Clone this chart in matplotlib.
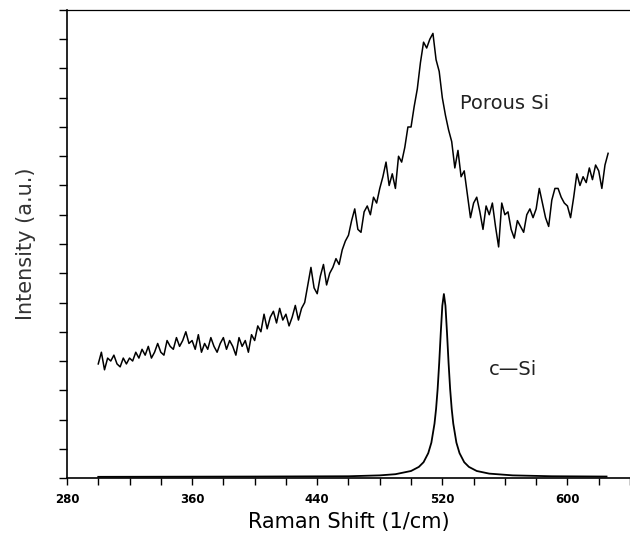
import numpy as np
import matplotlib
matplotlib.use("Agg")
import matplotlib.pyplot as plt
from matplotlib.ticker import MultipleLocator

# Porous Si spectrum, every 2 cm^-1 from 300 to 626
porous_x = np.arange(300, 628, 2)
porous_y = [
    3.9, 4.3, 3.7, 4.1, 4.0, 4.2, 3.9, 3.8, 4.1, 3.9,
    4.1, 4.0, 4.3, 4.1, 4.4, 4.2, 4.5, 4.1, 4.3, 4.6,
    4.3, 4.2, 4.7, 4.5, 4.4, 4.8, 4.5, 4.7, 5.0, 4.6,
    4.7, 4.4, 4.9, 4.3, 4.6, 4.4, 4.8, 4.5, 4.3, 4.6,
    4.8, 4.4, 4.7, 4.5, 4.2, 4.8, 4.5, 4.7, 4.3, 4.9,
    4.7, 5.2, 5.0, 5.6, 5.1, 5.5, 5.7, 5.3, 5.8, 5.4,
    5.6, 5.2, 5.5, 5.9, 5.4, 5.8, 6.0, 6.6, 7.2, 6.5,
    6.3, 6.9, 7.3, 6.6, 7.0, 7.2, 7.5, 7.3, 7.8, 8.1,
    8.3, 8.8, 9.2, 8.5, 8.4, 9.1, 9.3, 9.0, 9.6, 9.4,
    9.9, 10.3, 10.8, 10.0, 10.4, 9.9, 11.0, 10.8, 11.3, 12.0,
    12.0, 12.7, 13.3, 14.2, 14.9, 14.7, 15.0, 15.2, 14.3, 13.9,
    13.0, 12.4, 11.9, 11.5, 10.6, 11.2, 10.3, 10.5, 9.7, 8.9,
    9.4, 9.6, 9.1, 8.5, 9.3, 9.0, 9.4, 8.6, 7.9, 9.4,
    9.0, 9.1, 8.5, 8.2, 8.8, 8.6, 8.4, 9.0, 9.2, 8.9,
    9.2, 9.9, 9.4, 8.9, 8.6, 9.5, 9.9, 9.9, 9.6, 9.4,
    9.3, 8.9, 9.6, 10.4, 10.0, 10.3, 10.1, 10.6, 10.2, 10.7,
    10.5, 9.9, 10.7, 11.1,
]

# c-Si reference peak
csi_x = [300, 400, 460, 480, 490, 500, 505, 508, 511, 513, 515, 516, 517,
         518, 519, 520, 521, 522, 523, 524, 525, 526, 527, 529, 531, 534,
         537, 542, 550, 565, 590, 625]
csi_y = [0.04, 0.05, 0.06, 0.09, 0.13, 0.24, 0.38, 0.54, 0.85, 1.21, 1.86,
         2.36, 3.04, 3.93, 4.96, 5.89, 6.29, 5.89, 4.96, 3.93, 3.04, 2.36,
         1.86, 1.21, 0.85, 0.54, 0.38, 0.24, 0.15, 0.09, 0.06, 0.05]

x_ticks = [280, 360, 440, 520, 600]

fig = plt.figure(figsize=(6.3, 5.4), dpi=100)
ax = fig.add_axes([0.1063, 0.1148, 0.8937, 0.8667])

ax.plot(porous_x, porous_y, color="black", lw=1.1)
ax.plot(csi_x, csi_y, color="black", lw=1.3)

ax.set_xlim(280, 640)
ax.set_ylim(0, 16)

ax.set_xticks(x_ticks)
ax.set_xticklabels([str(t) for t in x_ticks])
ax.xaxis.set_minor_locator(MultipleLocator(20))
ax.yaxis.set_major_locator(MultipleLocator(1))
ax.tick_params(axis="x", which="both", direction="out", length=5, width=1.0,
               labelsize=8.5, pad=6)
ax.tick_params(axis="y", which="both", direction="out", length=6, width=1.0,
               labelleft=False)
for lab in ax.get_xticklabels():
    lab.set_fontweight("bold")

ax.spines["right"].set_visible(False)
for s in ("left", "bottom"):
    ax.spines[s].set_linewidth(1.2)
ax.spines["top"].set_linewidth(0.9)

ax.set_xlabel("Raman Shift (1/cm)", fontsize=15, labelpad=4)
ax.set_ylabel("Intensity (a.u.)", fontsize=15, labelpad=16, color="#333333")

ax.text(531.5, 12.8, "Porous Si", fontsize=14, va="center", ha="left",
        color="#222222")
ax.text(549.5, 3.7, "c\u2014Si", fontsize=14, va="center", ha="left",
        color="#222222")

fig.savefig("out.png", dpi=100)
